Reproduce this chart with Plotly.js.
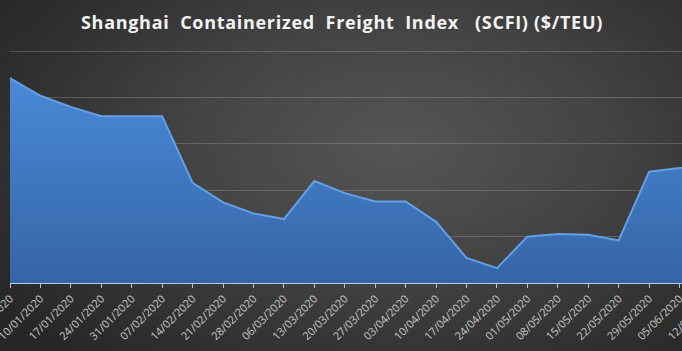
<!DOCTYPE html>
<html>
<head>
<meta charset="utf-8">
<script src="https://cdn.plot.ly/plotly-3.0.1.min.js"></script>
<style>
  html, body { margin: 0; padding: 0; width: 682px; height: 351px; overflow: hidden; }
  body { background: radial-gradient(ellipse 70% 80% at 58% 42%, #555555 0%, #434343 45%, #303030 80%, #272727 100%); }
  #chart { width: 730px; height: 351px; }
  #chart .gtitle { letter-spacing: 0.7px; }
</style>
</head>
<body>
<div id="chart"></div>
<script>
const dates = ["03/01/2020","10/01/2020","17/01/2020","24/01/2020","31/01/2020","07/02/2020",
  "14/02/2020","21/02/2020","28/02/2020","06/03/2020","13/03/2020","20/03/2020",
  "27/03/2020","03/04/2020","10/04/2020","17/04/2020","24/04/2020","01/05/2020",
  "08/05/2020","15/05/2020","22/05/2020","29/05/2020","05/06/2020","12/06/2020"];
const scfi = [1021, 1002, 990, 980, 980, 980, 908, 887, 875, 869, 910, 897,
  888, 888, 866, 827, 816, 850, 853, 852, 846, 920, 924, 930];
const chartTitle = "Shanghai\u00A0 Containerized\u00A0 Freight\u00A0 Index\u00A0\u00A0 (SCFI) ($/TEU)";

const trace = {
  x: dates,
  y: scfi,
  type: 'scatter',
  mode: 'lines',
  fill: 'tozeroy',
  line: { color: '#64a0e6', width: 2 },
  fillgradient: {
    type: 'vertical',
    start: 800,
    stop: 1025,
    colorscale: [[0, '#3565a6'], [1, '#4a8ad8']]
  },
  hoverinfo: 'x+y'
};

const layout = {
  width: 730,
  height: 351,
  margin: { l: 10, r: 20, t: 49, b: 68 },
  paper_bgcolor: 'rgba(0,0,0,0)',
  plot_bgcolor: 'rgba(0,0,0,0)',
  showlegend: false,
  title: {
    text: chartTitle,
    x: 342 / 730,
    xanchor: 'center',
    y: 1 - 23 / 351,
    yanchor: 'middle',
    font: { family: 'Open Sans, sans-serif', size: 18, color: '#f2f2f2', weight: 'bold' }
  },
  xaxis: {
    type: 'category',
    range: [0, 23],
    tickangle: -45,
    ticks: 'outside',
    ticklen: 4,
    tickcolor: '#b8c4d4',
    showline: true,
    linecolor: '#b8c8de',
    linewidth: 1,
    showgrid: false,
    tickfont: { family: 'Open Sans, sans-serif', size: 11, color: '#c8c8c8' },
    fixedrange: true
  },
  yaxis: {
    range: [800, 1052.5],
    dtick: 50,
    tick0: 800,
    showticklabels: false,
    showgrid: true,
    gridcolor: 'rgba(255,255,255,0.18)',
    gridwidth: 1,
    zeroline: false,
    showline: false,
    ticks: '',
    fixedrange: true
  }
};

Plotly.newPlot('chart', [trace], layout, { displayModeBar: false, staticPlot: true });
</script>
</body>
</html>
